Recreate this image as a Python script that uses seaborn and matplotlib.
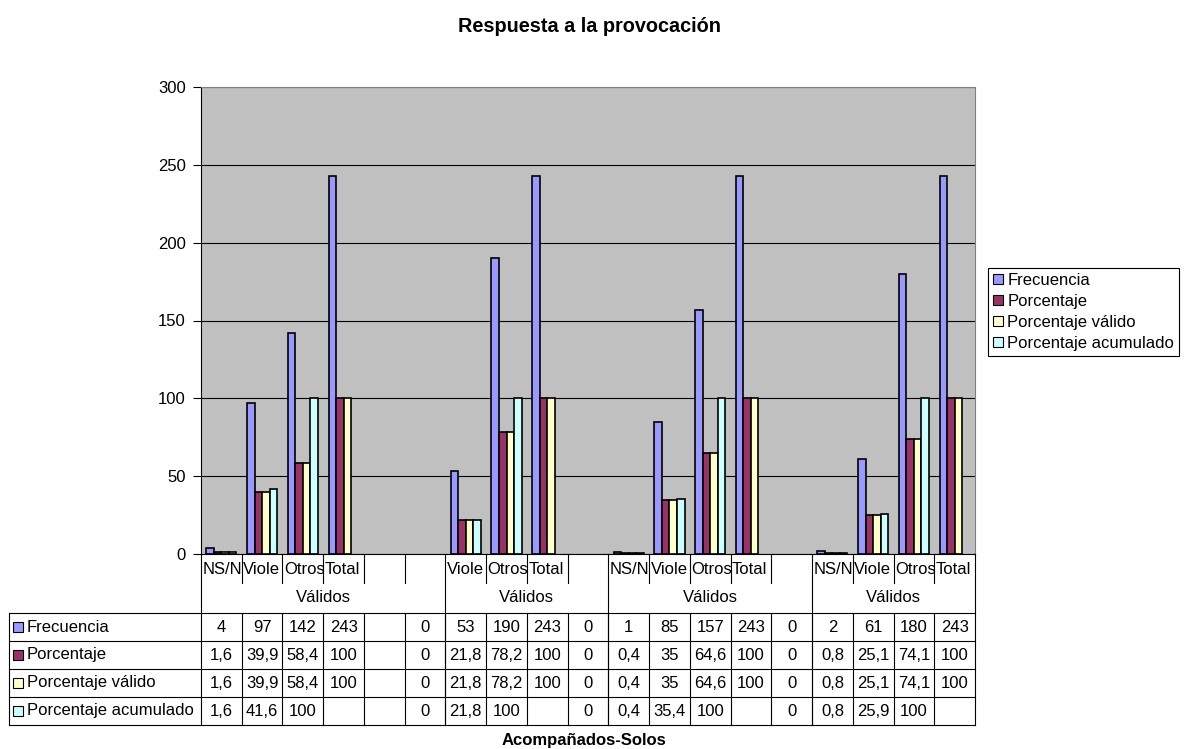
import numpy as np
import pandas as pd
import matplotlib
matplotlib.use("Agg")
import matplotlib.pyplot as plt
from matplotlib.patches import Rectangle, Patch
import seaborn as sns

# ---- data -------------------------------------------------------------
categorias = ["NS/N", "Viole", "Otros", "Total", "", "",
              "Viole", "Otros", "Total", "",
              "NS/N", "Viole", "Otros", "Total", "",
              "NS/N", "Viole", "Otros", "Total"]
grupos = ["Válidos", "Válidos", "Válidos", "Válidos"]
tamanos_grupo = [6, 4, 5, 4]

nan = np.nan
frecuencia = [4, 97, 142, 243, nan, 0, 53, 190, 243, 0,
              1, 85, 157, 243, 0, 2, 61, 180, 243]
porcentaje = [1.6, 39.9, 58.4, 100, nan, 0, 21.8, 78.2, 100, 0,
              0.4, 35, 64.6, 100, 0, 0.8, 25.1, 74.1, 100]
porcentaje_valido = [1.6, 39.9, 58.4, 100, nan, 0, 21.8, 78.2, 100, 0,
                     0.4, 35, 64.6, 100, 0, 0.8, 25.1, 74.1, 100]
porcentaje_acumulado = [1.6, 41.6, 100, nan, nan, 0, 21.8, 100, nan, 0,
                        0.4, 35.4, 100, nan, 0, 0.8, 25.9, 100, nan]

series = ["Frecuencia", "Porcentaje", "Porcentaje válido", "Porcentaje acumulado"]
valores = [frecuencia, porcentaje, porcentaje_valido, porcentaje_acumulado]
colores = ["#9999FF", "#993366", "#FFFFCC", "#CCFFFF"]
y_ticks = [0, 50, 100, 150, 200, 250, 300]
titulo = "Respuesta a la provocación"
titulo_x = "Acompañados-Solos"

# ---- long-form table for seaborn (empty and zero cells draw no bar) ----
claves = [f"c{i:02d}" for i in range(len(categorias))]
filas = []
for s, vals in zip(series, valores):
    for k, v in zip(claves, vals):
        if not np.isnan(v) and v != 0:
            filas.append({"columna": k, "serie": s, "valor": v})
df = pd.DataFrame(filas)

plt.rcParams["font.family"] = ["Liberation Sans", "DejaVu Sans"]
FS = 12

W, H = 1189, 749
fig = plt.figure(figsize=(W / 100, H / 100), dpi=100)
fig.patch.set_facecolor("white")

L, R, T, B = 201, 975, 87, 554
ax = fig.add_axes([L / W, 1 - B / H, (R - L) / W, (B - T) / H])

sns.barplot(data=df, x="columna", y="valor", hue="serie",
            order=claves, hue_order=series,
            palette=dict(zip(series, colores)), saturation=1,
            width=0.74, edgecolor="black", linewidth=1.2,
            errorbar=None, legend=False, ax=ax)

ax.set_xlim(-0.5, len(claves) - 0.5)
ax.set_ylim(y_ticks[0], y_ticks[-1])
ax.set_facecolor("#C0C0C0")
ax.set_axisbelow(True)
ax.yaxis.grid(True, color="black", linewidth=0.8)
ax.xaxis.grid(False)
ax.set_xticks([])
ax.set_yticks(y_ticks)
ax.set_xlabel("")
ax.set_ylabel("")
ax.tick_params(axis="y", direction="out", length=6, width=0.8, pad=5,
               labelsize=FS, color="black")
for lado in ("top", "right"):
    ax.spines[lado].set_color("#808080")
    ax.spines[lado].set_linewidth(0.8)
for lado in ("left", "bottom"):
    ax.spines[lado].set_color("black")
    ax.spines[lado].set_linewidth(0.8)

# ---- data table under the plot -----------------------------------------
tab = fig.add_axes([0, 0, 1, 1])
tab.set_xlim(0, W)
tab.set_ylim(H, 0)
tab.axis("off")

n = len(categorias)
ancho = (R - L) / n
bordes = [L + i * ancho for i in range(n + 1)]
y_cat, y_tick_fin, y_grp, y_tab, alto_fila = 554, 583, 598, 613, 28
y_fin = y_tab + 4 * alto_fila
x_izq = 9
lw = 0.8

limites_grupo = [0]
for t in tamanos_grupo:
    limites_grupo.append(limites_grupo[-1] + t)

for i in range(1, n):
    if i not in limites_grupo:
        tab.plot([bordes[i]] * 2, [y_cat, y_tick_fin], color="black", lw=lw)
    tab.plot([bordes[i]] * 2, [y_tab, y_fin], color="black", lw=lw)
for i in limites_grupo:
    tab.plot([bordes[i]] * 2, [y_cat, y_fin], color="black", lw=lw)
tab.plot([x_izq] * 2, [y_tab, y_fin], color="black", lw=lw)
for k in range(5):
    y = y_tab + k * alto_fila
    tab.plot([x_izq, R], [y, y], color="black", lw=lw)

# category labels, clipped to their cells
for i, lab in enumerate(categorias):
    if not lab:
        continue
    t = tab.text(bordes[i] + 1.5, (y_cat + y_tick_fin) / 2 + 1, lab,
                 ha="left", va="center", fontsize=FS)
    clip = Rectangle((bordes[i], y_cat), ancho - 0.5, y_tick_fin - y_cat,
                     transform=tab.transData)
    t.set_clip_path(clip)

# group labels
for g, a, b in zip(grupos, limites_grupo[:-1], limites_grupo[1:]):
    tab.text((bordes[a] + bordes[b]) / 2, y_grp, g,
             ha="center", va="center", fontsize=FS)


def fmt(v):
    if np.isnan(v):
        return ""
    if float(v).is_integer():
        return str(int(v))
    return f"{v:.1f}".replace(".", ",")


for r, (s, c, vals) in enumerate(zip(series, colores, valores)):
    yc = y_tab + (r + 0.5) * alto_fila
    tab.add_patch(Rectangle((13, yc - 5), 10, 10, facecolor=c,
                            edgecolor="black", linewidth=0.8))
    tab.text(27, yc, s, ha="left", va="center", fontsize=FS)
    for i, v in enumerate(vals):
        tab.text(bordes[i] + ancho / 2, yc, fmt(v),
                 ha="center", va="center", fontsize=FS)

tab.text((L + R) / 2 - 4, 740, titulo_x, ha="center", va="center",
         fontsize=FS, fontweight="bold")
tab.text(590, 26, titulo, ha="center", va="center",
         fontsize=14.3, fontweight="bold")

# ---- legend -------------------------------------------------------------
manejadores = [Patch(facecolor=c, edgecolor="black", linewidth=0.8, label=s)
               for s, c in zip(series, colores)]
leg = fig.legend(handles=manejadores, loc="upper left",
                 bbox_to_anchor=(988 / W, 1 - 268 / H),
                 frameon=True, fancybox=False, edgecolor="black",
                 framealpha=1, fontsize=FS, handlelength=0.6,
                 handleheight=0.6, handletextpad=0.25, labelspacing=0.36,
                 borderpad=0.3, borderaxespad=0)
leg.get_frame().set_linewidth(0.8)

fig.savefig("out.png", dpi=100, facecolor="white")
